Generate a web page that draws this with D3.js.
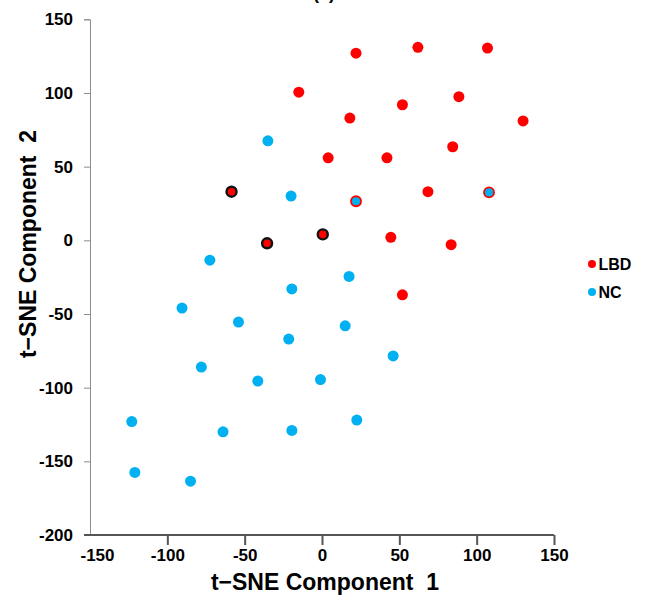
<!DOCTYPE html>
<html>
<head>
<meta charset="utf-8">
<script src="https://cdn.jsdelivr.net/npm/d3@7"></script>
<style>
  html, body { margin: 0; padding: 0; background: #fff; }
  svg { display: block; font-family: "Liberation Sans", Arial, sans-serif; }
</style>
</head>
<body>
<svg id="chart" width="651" height="601"></svg>
<script>
// t-SNE embedding, LBD vs NC samples
const lbdX = [22, 62, 107, -15, 88.5, 52, 18, 130, 4, 42, 84.5, 68.5, 44.5, 83.5, 52];
const lbdY = [127, 131, 130.5, 100.5, 97.5, 92, 83, 81, 56, 56, 63.5, 33, 2, -3, -37];

// LBD samples drawn with a black ring
const lbdRingX = [-58.5, -35.5, 0.5];
const lbdRingY = [33, -2, 4];

const ncX = [-35, -20, -72.5, 17.5, -19.5, -90.5, -54, 15, -21.5, 46, -78, -41.5, -1, 22.5, -123, -64, -19.5, -121, -85];
const ncY = [67.5, 30, -13.5, -24.5, -33, -46, -55.5, -58, -67, -78.5, -86, -95.5, -94.5, -122, -123, -130, -129, -157.5, -163.5];

// NC samples drawn with a red ring
const ncRingX = [22, 108];
const ncRingY = [26.5, 32.5];

const xTicks = [-150, -100, -50, 0, 50, 100, 150];
const yTicks = [-200, -150, -100, -50, 0, 50, 100, 150];

const legendLabels = ["LBD", "NC"];
const RED = "#ff0000", BLUE = "#00b0f0";

const svg = d3.select("#chart");

const x = d3.scaleLinear().domain([-150, 150]).range([90, 554]);
const y = d3.scaleLinear().domain([-200, 150]).range([535, 19.3]);

// panel label, mostly above the visible area
svg.append("text")
  .attr("x", 324).attr("y", -1)
  .attr("text-anchor", "middle")
  .attr("font-size", 18).attr("font-weight", "bold")
  .text("(a)");

// y axis
const gy = svg.append("g")
  .attr("transform", `translate(${x(-150)},0)`)
  .call(d3.axisLeft(y).tickValues(yTicks).tickSize(6).tickPadding(11).tickFormat(d3.format("d")));
gy.select(".domain").attr("stroke", "#8c8c8c").attr("stroke-width", 1);
gy.selectAll(".tick line").attr("stroke", "#8c8c8c");
gy.selectAll(".tick text")
  .attr("font-size", 17).attr("font-weight", "bold").attr("fill", "#000")
  .attr("font-family", "Liberation Sans, Arial, sans-serif")
  .text(d => String(d).replace("\u2212", "-"));

// x axis
const gx = svg.append("g")
  .attr("transform", `translate(0,${y(-200)})`)
  .call(d3.axisBottom(x).tickValues(xTicks).tickSize(10).tickPadding(4).tickFormat(d3.format("d")));
gx.select(".domain").attr("stroke", "#555").attr("stroke-width", 2)
  .attr("d", `M${x(-150) - 6},0H${x(150)}`);
gx.selectAll(".tick line").attr("stroke", "#555").attr("stroke-width", 2)
  .attr("opacity", d => d === -150 ? 0 : 1);
gx.selectAll(".tick text")
  .attr("font-size", 17).attr("font-weight", "bold").attr("fill", "#000")
  .attr("font-family", "Liberation Sans, Arial, sans-serif")
  .attr("dx", d => d === -150 ? 7 : 0)
  .text(d => String(d).replace("\u2212", "-"));

// axis titles
svg.append("text")
  .attr("x", 325).attr("y", 590)
  .attr("text-anchor", "middle")
  .attr("font-size", 23).attr("font-weight", "bold")
  .style("white-space", "pre")
  .text("t\u2212SNE Component  1");

svg.append("text")
  .attr("transform", `translate(36,${244}) rotate(-90)`)
  .attr("text-anchor", "middle")
  .attr("font-size", 23).attr("font-weight", "bold")
  .style("white-space", "pre")
  .text("t\u2212SNE Component  2");

// points
const pts = svg.append("g");

pts.selectAll("circle.lbd")
  .data(d3.zip(lbdX, lbdY))
  .join("circle").attr("class", "lbd")
  .attr("cx", d => x(d[0])).attr("cy", d => y(d[1]))
  .attr("r", 5.5).attr("fill", RED);

pts.selectAll("circle.nc")
  .data(d3.zip(ncX, ncY))
  .join("circle").attr("class", "nc")
  .attr("cx", d => x(d[0])).attr("cy", d => y(d[1]))
  .attr("r", 5.5).attr("fill", BLUE);

pts.selectAll("circle.ncring")
  .data(d3.zip(ncRingX, ncRingY))
  .join("circle").attr("class", "ncring")
  .attr("cx", d => x(d[0])).attr("cy", d => y(d[1]))
  .attr("r", 5).attr("fill", BLUE)
  .attr("stroke", RED).attr("stroke-width", 1.8);

pts.selectAll("circle.lbdring")
  .data(d3.zip(lbdRingX, lbdRingY))
  .join("circle").attr("class", "lbdring")
  .attr("cx", d => x(d[0])).attr("cy", d => y(d[1]))
  .attr("r", 5).attr("fill", RED)
  .attr("stroke", "#111").attr("stroke-width", 2.4);

// legend
const legend = svg.append("g");
const legendColors = [RED, BLUE];
legendLabels.forEach((lab, i) => {
  const cy = 264 + i * 28;
  legend.append("circle").attr("cx", 592).attr("cy", cy).attr("r", 4).attr("fill", legendColors[i]);
  legend.append("text").attr("x", 598.5).attr("y", cy + 5.5)
    .attr("font-size", 16).attr("font-weight", "bold")
    .text(lab);
});
</script>
</body>
</html>
